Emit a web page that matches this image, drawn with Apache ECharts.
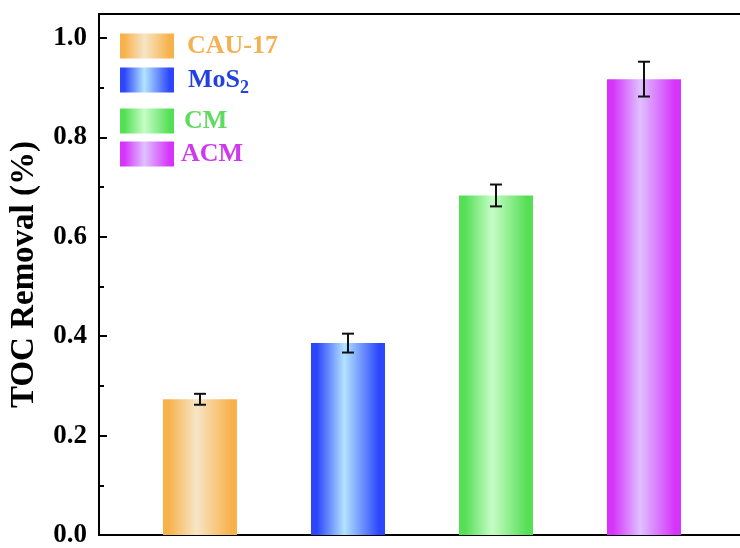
<!DOCTYPE html>
<html>
<head>
<meta charset="utf-8">
<script src="https://cdn.jsdelivr.net/npm/echarts@6/dist/echarts.min.js"></script>
<style>
  html, body { margin: 0; padding: 0; background: #fff; }
  #chart { width: 740px; height: 548px; }
</style>
</head>
<body>
<div id="chart"></div>
<script>
// Samples and TOC removal results
const samples = ['CAU-17', 'MoS2', 'CM', 'ACM'];
const positions = [1, 2, 3, 4];
const removal = [0.273, 0.386, 0.683, 0.917];
const errors = [0.011, 0.019, 0.022, 0.035];
const yTicks = [0, 0.2, 0.4, 0.6, 0.8, 1.0];

// Bar shading: saturated edges, pale centre
const edgeColors = ['#f8b24c', '#2c46fb', '#55df55', '#d634fb'];
const centreColors = ['#f6e5c6', '#b3e3ff', '#c6fdc6', '#dfc1ff'];
const textColors = ['#f6b052', '#2141e0', '#5fdc5f', '#cf38ee'];

const FONT = '"Liberation Serif", "Times New Roman", serif';

function shade(i) {
  return new echarts.graphic.LinearGradient(0, 0, 1, 0, [
    { offset: 0, color: edgeColors[i] },
    { offset: 0.08, color: edgeColors[i] },
    { offset: 0.45, color: centreColors[i] },
    { offset: 0.92, color: edgeColors[i] },
    { offset: 1, color: edgeColors[i] }
  ]);
}

const legendTops = [33, 67, 108, 141];
const legendPads = [8, 9, 5, 2];

const barSeries = samples.map((name, i) => ({
  name: name,
  type: 'bar',
  barWidth: 74,
  barGap: '-100%',
  itemStyle: { color: shade(i) },
  data: [[positions[i], removal[i]]],
  z: 2
}));

const errorSeries = {
  type: 'custom',
  name: 'err',
  z: 5,
  data: positions.map((p, i) => [p, removal[i] - errors[i], removal[i] + errors[i]]),
  renderItem: function (params, api) {
    const lo = api.coord([api.value(0), api.value(1)]);
    const hi = api.coord([api.value(0), api.value(2)]);
    const cap = 6;
    const st = { stroke: '#111', lineWidth: 2 };
    return {
      type: 'group',
      children: [
        { type: 'line', shape: { x1: lo[0], y1: lo[1], x2: hi[0], y2: hi[1] }, style: st },
        { type: 'line', shape: { x1: lo[0] - cap, y1: lo[1], x2: lo[0] + cap, y2: lo[1] }, style: st },
        { type: 'line', shape: { x1: hi[0] - cap, y1: hi[1], x2: hi[0] + cap, y2: hi[1] }, style: st }
      ]
    };
  }
};

const legends = samples.map((name, i) => ({
  data: [name],
  left: 120,
  top: legendTops[i],
  orient: 'vertical',
  itemWidth: 54,
  itemHeight: 25,
  padding: 0,
  selectedMode: false,
  icon: 'rect',
  formatter: function (n) {
    return n === 'MoS2' ? '{a|MoS}{s|2}' : '{a|' + n + '}';
  },
  textStyle: {
    rich: {
      a: { fontFamily: FONT, fontWeight: 'bold', fontSize: 26, color: textColors[i], padding: [0, 0, 0, legendPads[i]] },
      s: { fontFamily: FONT, fontWeight: 'bold', fontSize: 18, color: textColors[i], padding: [16, 0, 0, 0] }
    }
  }
}));

const chart = echarts.init(document.getElementById('chart'), null, { renderer: 'canvas' });
chart.setOption({
  animation: false,
  backgroundColor: '#ffffff',
  legend: legends,
  grid: {
    left: 99, right: -20, top: 14, bottom: 13,
    containLabel: false,
    outerBoundsMode: 'none',
    show: true, borderColor: '#000', borderWidth: 2, backgroundColor: 'transparent'
  },
  xAxis: {
    type: 'value',
    min: 0.3176,
    max: 4.784,
    axisLine: { show: true, lineStyle: { color: '#000', width: 2 } },
    axisTick: { show: false },
    axisLabel: { show: false },
    splitLine: { show: false }
  },
  yAxis: {
    type: 'value',
    min: 0,
    max: 1.048,
    interval: 0.2,
    name: 'TOC Removal (%)',
    nameLocation: 'middle',
    nameGap: 58,
    nameTextStyle: { fontFamily: FONT, fontWeight: 'bold', fontSize: 33, color: '#000' },
    axisLine: { show: true, lineStyle: { color: '#000', width: 2 } },
    axisTick: { show: true, inside: true, length: 8, lineStyle: { color: '#000', width: 2 } },
    minorTick: { show: true, splitNumber: 2, length: 5, lineStyle: { color: '#000', width: 2 } },
    axisLabel: {
      margin: 12,
      showMaxLabel: false,
      fontFamily: FONT, fontWeight: 'bold', fontSize: 27, color: '#000',
      formatter: function (v) {
        const ok = yTicks.some(t => Math.abs(t - v) < 1e-6);
        return ok ? v.toFixed(1) : '';
      }
    },
    splitLine: { show: false }
  },
  series: barSeries.concat([errorSeries])
});
</script>
</body>
</html>
